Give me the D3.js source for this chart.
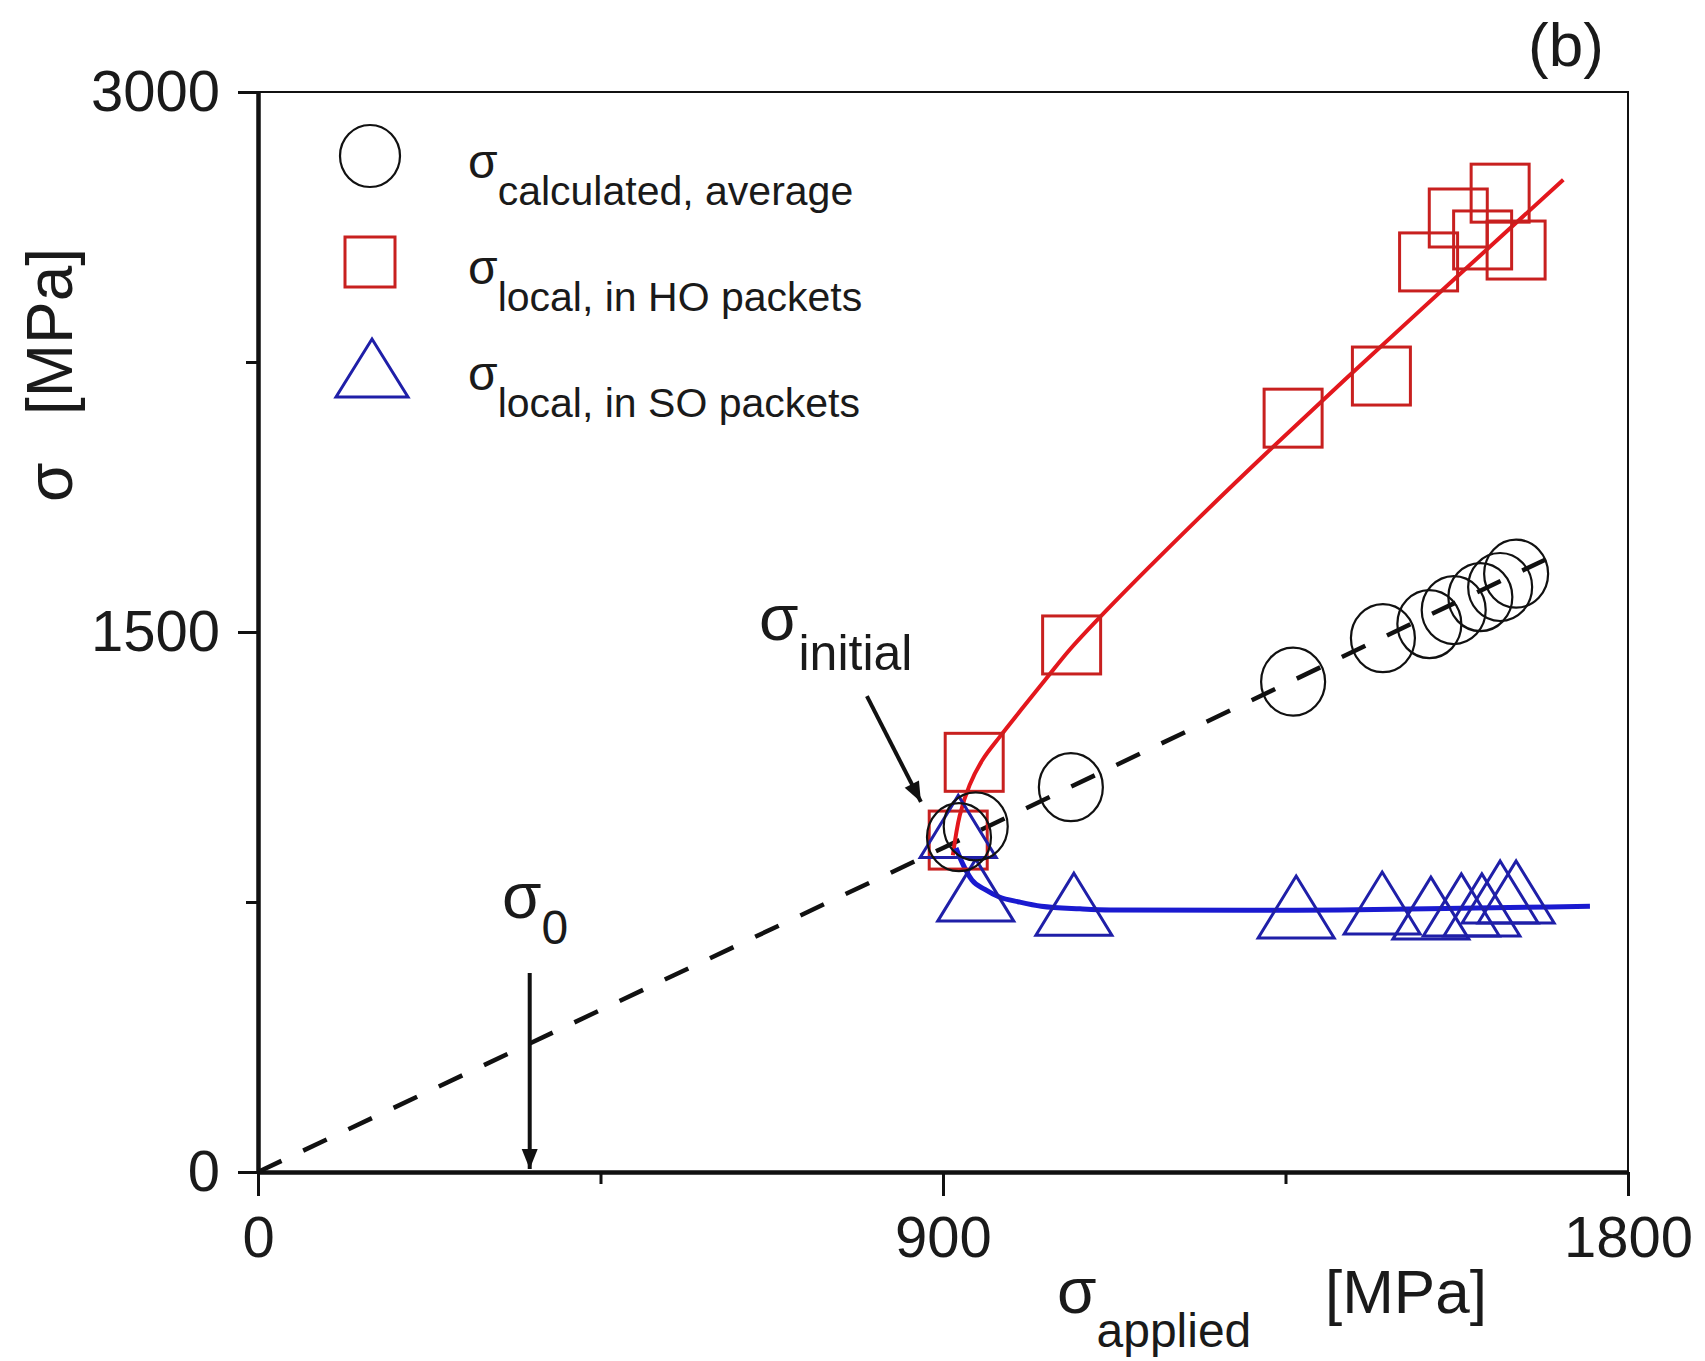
<!DOCTYPE html>
<html>
<head>
<meta charset="utf-8">
<script src="https://cdn.jsdelivr.net/npm/d3@7"></script>
<style>
  body { margin: 0; background: #fff; }
  text { font-family: "Liberation Sans", Arial, sans-serif; fill: #1a1a1a; }
</style>
</head>
<body>
<div id="chart"></div>
<script>
// values, MPa
const calcAverage = [[921, 930], [943, 960], [1068, 1069], [1360, 1362], [1478, 1483],
  [1539, 1522], [1571, 1561], [1606, 1597], [1632, 1625], [1653, 1662]]
const localHO = [[920, 922], [941, 1138], [1069, 1464], [1360, 2094], [1476, 2211],
  [1538, 2528], [1577, 2650], [1609, 2589], [1632, 2719], [1653, 2561]]
const localSO = [[920, 960], [943, 783], [1072, 744], [1364, 736], [1477, 747],
  [1541, 733], [1581, 742], [1608, 742], [1632, 778], [1653, 778]]

const fitAverage = [[0, 0], [900, 900], [1715, 1725]]
const fitHO = [[913, 880], [922, 990], [935, 1075], [952, 1145], [975, 1210], [1005, 1290],
  [1037, 1374], [1067, 1452], [1123, 1578], [1233, 1810], [1324, 1995], [1430, 2205],
  [1577, 2490], [1715, 2756]]
const fitSO = [[917, 900], [925, 860], [938, 811], [955, 785], [974, 764], [1000, 750],
  [1029, 738], [1080, 731], [1120, 728], [1300, 727], [1421, 728], [1600, 733], [1750, 738]]

const sigma0 = 357
const initialArrow = [[800, 1322], [871, 1028]]

const xMajor = [0, 900, 1800]
const xMinor = [450, 1350]
const yMajor = [0, 1500, 3000]
const yMinor = [750, 2250]

const width = 1705, height = 1361
const margin = {top: 92, right: 77, bottom: 189, left: 258}
const plotW = width - margin.left - margin.right
const plotH = height - margin.top - margin.bottom

const black = '#111'
const red = '#e3171d'
const redMark = '#c8201f'
const blue = '#1a1ad0'
const blueMark = '#1f1fa8'

const svg = d3.select('#chart').append('svg')
    .attr('width', width)
    .attr('height', height)

svg.append('defs').append('marker')
    .attr('id', 'head')
    .attr('viewBox', '0 0 10 10')
    .attr('refX', 10).attr('refY', 5)
    .attr('markerWidth', 8).attr('markerHeight', 5)
    .attr('markerUnits', 'strokeWidth')
    .attr('orient', 'auto')
  .append('path')
    .attr('d', 'M0,1 L10,5 L0,9 Z')
    .attr('fill', black)

const g = svg.append('g')
    .attr('transform', `translate(${margin.left},${margin.top})`)

const x = d3.scaleLinear().domain([0, 1800]).range([0, plotW])
const y = d3.scaleLinear().domain([0, 3000]).range([plotH, 0])

// frame: thin top/right, heavy left/bottom
g.append('path')
    .attr('d', `M0,0 H${plotW} V${plotH}`)
    .attr('fill', 'none').attr('stroke', black).attr('stroke-width', 2)

g.append('g').attr('transform', `translate(0,${plotH})`)
    .call(d3.axisBottom(x).tickValues(xMajor).tickSize(24).tickSizeOuter(0).tickPadding(20)
        .tickFormat(d3.format('d')))
g.append('g').attr('transform', `translate(0,${plotH})`)
    .call(d3.axisBottom(x).tickValues(xMinor).tickSize(12).tickSizeOuter(0).tickFormat(''))
g.append('g')
    .call(d3.axisLeft(y).tickValues(yMajor).tickSize(20).tickSizeOuter(0).tickPadding(18)
        .tickFormat(d3.format('d')))
g.append('g')
    .call(d3.axisLeft(y).tickValues(yMinor).tickSize(12).tickSizeOuter(0).tickFormat(''))

g.selectAll('.domain').attr('stroke', black).attr('stroke-width', 4)
g.selectAll('.tick line').attr('stroke', black).attr('stroke-width', 3)
g.selectAll('.tick text')
    .style('font-family', '"Liberation Sans", Arial, sans-serif')
    .style('font-size', '58px')
    .attr('fill', '#222')

// fitted lines
const line = d3.line().x(d => x(d[0])).y(d => y(d[1]))
g.append('path').datum(fitAverage)
    .attr('d', line)
    .attr('fill', 'none').attr('stroke', black)
    .attr('stroke-width', 4.5).attr('stroke-dasharray', '26,24')
g.append('path').datum(fitHO)
    .attr('d', line.curve(d3.curveCatmullRom.alpha(0.5)))
    .attr('fill', 'none').attr('stroke', red).attr('stroke-width', 4)
g.append('path').datum(fitSO)
    .attr('d', line.curve(d3.curveMonotoneX))
    .attr('fill', 'none').attr('stroke', blue).attr('stroke-width', 5)

// markers
const tri = (w, h) => `M0,${-h / 2}L${w / 2},${h / 2}L${-w / 2},${h / 2}Z`

g.selectAll('.ho').data(localHO).join('rect')
    .attr('class', 'ho')
    .attr('x', d => x(d[0]) - 29).attr('y', d => y(d[1]) - 29)
    .attr('width', 58).attr('height', 58)
    .attr('fill', 'none').attr('stroke', redMark).attr('stroke-width', 3)

g.selectAll('.so').data(localSO).join('path')
    .attr('class', 'so')
    .attr('transform', d => `translate(${x(d[0])},${y(d[1])})`)
    .attr('d', tri(76, 62))
    .attr('fill', 'none').attr('stroke', blueMark).attr('stroke-width', 3)

g.selectAll('.avg').data(calcAverage).join('ellipse')
    .attr('class', 'avg')
    .attr('cx', d => x(d[0])).attr('cy', d => y(d[1]))
    .attr('rx', 32).attr('ry', 34)
    .attr('fill', 'none').attr('stroke', black).attr('stroke-width', 2.2)

// annotations
g.append('line')
    .attr('x1', x(sigma0)).attr('x2', x(sigma0))
    .attr('y1', y(553)).attr('y2', y(8))
    .attr('stroke', black).attr('stroke-width', 4)
    .attr('marker-end', 'url(#head)')
g.append('line')
    .attr('x1', x(initialArrow[0][0])).attr('y1', y(initialArrow[0][1]))
    .attr('x2', x(initialArrow[1][0])).attr('y2', y(initialArrow[1][1]))
    .attr('stroke', black).attr('stroke-width', 4)
    .attr('marker-end', 'url(#head)')

function sigmaLabel(parent, px, py, sub, big, small, shift) {
    const t = parent.append('text').attr('x', px).attr('y', py)
    t.append('tspan').style('font-size', big + 'px').text('σ')
    t.append('tspan').attr('dy', shift).style('font-size', small + 'px').text(sub)
    return t
}

sigmaLabel(svg, 759, 640, 'initial', 64, 50, 30)
sigmaLabel(svg, 502, 918, '0', 64, 48, 26)

// axis titles
sigmaLabel(svg, 1057, 1313, 'applied', 64, 48, 34)
svg.append('text').attr('x', 1325).attr('y', 1313)
    .style('font-size', '62px').text('[MPa]')

svg.append('text')
    .attr('transform', 'translate(72,502) rotate(-90)')
    .style('font-size', '64px').text('σ')
svg.append('text')
    .attr('transform', 'translate(72,415) rotate(-90)')
    .style('font-size', '64px').text('[MPa]')

svg.append('text').attr('x', 1528).attr('y', 66)
    .style('font-size', '62px').text('(b)')

// legend
const legendRows = [
    {label: 'calculated, average', kind: 'avg'},
    {label: 'local, in HO packets', kind: 'ho'},
    {label: 'local, in SO packets', kind: 'so'},
]
const legend = svg.append('g')
legendRows.forEach((r, i) => {
    const cy = 156 + i * 106
    if (r.kind === 'avg') {
        legend.append('ellipse').attr('cx', 370).attr('cy', cy).attr('rx', 30).attr('ry', 31)
            .attr('fill', 'none').attr('stroke', black).attr('stroke-width', 2.2)
    } else if (r.kind === 'ho') {
        legend.append('rect').attr('x', 345).attr('y', cy - 25).attr('width', 50).attr('height', 50)
            .attr('fill', 'none').attr('stroke', redMark).attr('stroke-width', 3)
    } else {
        legend.append('path').attr('transform', `translate(372,${cy})`).attr('d', tri(72, 58))
            .attr('fill', 'none').attr('stroke', blueMark).attr('stroke-width', 3)
    }
    sigmaLabel(legend, 468, cy + 22, r.label, 48, 41, 27)
})
</script>
</body>
</html>
